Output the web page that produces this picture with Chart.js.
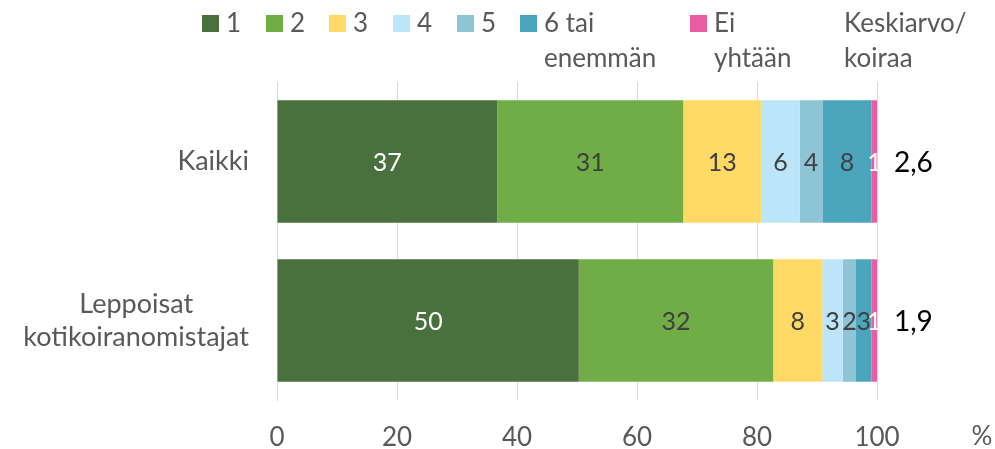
<!DOCTYPE html>
<html>
<head>
<meta charset="utf-8">
<script src="https://cdn.jsdelivr.net/npm/chart.js@4/dist/chart.umd.min.js"></script>
<style>
html,body{margin:0;padding:0;background:#fff}
</style>
</head>
<body>
<canvas id="kaavio" width="995" height="449"></canvas>
<script>
// ---------------------------------
// DATA
// ---------------------------------
const ryhmat = [["Kaikki"], ["Leppoisat", "kotikoiranomistajat"]];
const sarjaNimet = [["1"], ["2"], ["3"], ["4"], ["5"], ["6 tai", "enemmän"], ["Ei", "yhtään"]];
const koiria1 = [36.7, 50.3];
const koiria2 = [31.0, 32.4];
const koiria3 = [13.0, 8.2];
const koiria4 = [6.4, 3.4];
const koiria5 = [3.8, 2.2];
const koiria6 = [8.2, 2.6];
const eiYhtaan = [1.0, 0.9];
const keskiarvot = ["2,6", "1,9"];
const keskiarvoOtsikko = ["Keskiarvo/", "koiraa"];
const xTikit = [0, 20, 40, 60, 80, 100];

const varit = ["#4A703E", "#70AD47", "#FFD966", "#BDE5FA", "#8EC5D4", "#4BA6BD", "#EA5DA0"];
const arvoVarit = ["#ffffff", "#404040", "#404040", "#404040", "#404040", "#404040", "#ffffff"];
const legendaX = [202, 266, 329, 393, 457, 520, 690];

const FONTTI = "Lato";
const HARMAA = "#595959";

const sarjat = [koiria1, koiria2, koiria3, koiria4, koiria5, koiria6, eiYhtaan];

// ---------------------------------
// OMAT PIIRROT
// ---------------------------------
const omatPiirrot = {
    id: "omatPiirrot",
    afterDatasetsDraw(chart){
        const ctx = chart.ctx;
        ctx.save();
        ctx.textAlign = "center";
        ctx.textBaseline = "middle";
        ctx.font = "25px " + FONTTI;
        chart.data.datasets.forEach((ds, i)=>{
            const meta = chart.getDatasetMeta(i);
            meta.data.forEach((el, j)=>{
                ctx.fillStyle = arvoVarit[i];
                ctx.fillText(String(Math.round(ds.data[j])), (el.x + el.base)/2, el.y + 1);
            });
        });
        ctx.restore();
    },
    afterDraw(chart){
        const ctx = chart.ctx;
        const ala = chart.chartArea;
        const y = chart.scales.y;
        ctx.save();
        ctx.textBaseline = "middle";

        // legenda
        ctx.font = "26px " + FONTTI;
        chart.data.datasets.forEach((ds, i)=>{
            const x = legendaX[i];
            ctx.fillStyle = ds.backgroundColor;
            ctx.fillRect(x, 15, 17, 17);
            ctx.fillStyle = HARMAA;
            ctx.textAlign = "left";
            ds.label.forEach((rivi, r)=>{
                ctx.fillText(rivi, x + 24, 24 + r*35);
            });
        });
        keskiarvoOtsikko.forEach((rivi, r)=>{
            ctx.fillText(rivi, 844, 24 + r*35);
        });

        // ryhmien nimet
        ctx.font = "27px " + FONTTI;
        ctx.textAlign = "center";
        ryhmat.forEach((rivit, j)=>{
            const yc = y.getPixelForValue(j);
            const leveys = Math.max(...rivit.map(r=>ctx.measureText(r).width));
            const xc = ala.left - 28 - leveys/2;
            rivit.forEach((rivi, r)=>{
                ctx.fillText(rivi, xc, yc + (r - (rivit.length-1)/2)*33);
            });
        });

        // keskiarvot
        ctx.font = "28px " + FONTTI;
        ctx.fillStyle = "#000000";
        ctx.textAlign = "left";
        keskiarvot.forEach((k, j)=>{
            ctx.fillText(k, ala.right + 17, y.getPixelForValue(j) + 1);
        });

        // prosenttimerkki
        ctx.font = "26px " + FONTTI;
        ctx.fillStyle = HARMAA;
        ctx.textAlign = "center";
        ctx.fillText("%", ala.right + 105, 437);

        ctx.restore();
    }
};

// ---------------------------------
// KAAVIO
// ---------------------------------
new Chart(document.getElementById("kaavio"), {
    type: "bar",
    data: {
        labels: ryhmat,
        datasets: sarjat.map((d, i)=>({
            label: sarjaNimet[i],
            data: d,
            backgroundColor: varit[i],
            borderWidth: 0,
            barPercentage: 0.77,
            categoryPercentage: 1
        }))
    },
    options: {
        indexAxis: "y",
        responsive: false,
        animation: false,
        layout: { padding: { top: 82, right: 118, left: 0, bottom: 0 } },
        plugins: {
            legend: { display: false },
            tooltip: { enabled: false }
        },
        scales: {
            x: {
                stacked: true,
                min: 0,
                max: 100,
                afterBuildTicks: s=>{ s.ticks = xTikit.map(v=>({ value: v })); },
                grid: { color: "#D9D9D9", drawTicks: false },
                border: { display: false },
                ticks: {
                    color: HARMAA,
                    font: { family: FONTTI, size: 26 },
                    padding: 22
                },
                afterFit: s=>{ s.height = 49; }
            },
            y: {
                stacked: true,
                grid: { display: false },
                border: { display: true, color: "#D9D9D9" },
                ticks: { display: false },
                afterFit: s=>{ s.width = 277; }
            }
        }
    },
    plugins: [omatPiirrot]
});
</script>
</body>
</html>
